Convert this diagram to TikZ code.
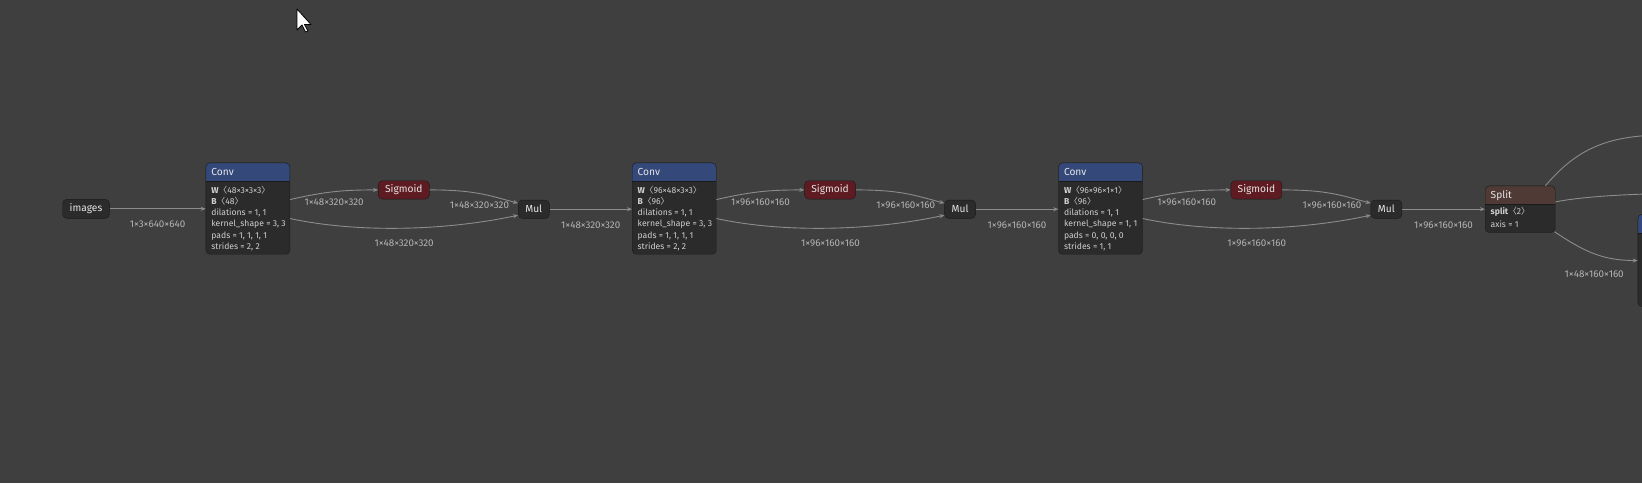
\documentclass[tikz,border=0pt]{standalone}
\usepackage{fontspec}
\setmainfont{Fira Sans}
\newfontfamily\cjkfont{Noto Sans CJK SC}
\usetikzlibrary{positioning,calc,arrows.meta}
\definecolor{bgcol}{HTML}{3F3F3F}
\definecolor{nodefill}{HTML}{2B2B2B}
\definecolor{nodeline}{HTML}{1A1A1A}
\definecolor{nodetext}{HTML}{E6E6E6}
\definecolor{attrtext}{HTML}{D0D0D0}
\definecolor{convhead}{HTML}{34487A}
\definecolor{sigfill}{HTML}{5E1B21}
\definecolor{splithead}{HTML}{503A36}
\definecolor{edgecol}{HTML}{8C8C8C}
\definecolor{lblcol}{HTML}{B4B4B4}
\newcommand{\lbr}{{\cjkfont 〈}}
\newcommand{\rbr}{{\cjkfont 〉}}

\begin{document}
\begin{tikzpicture}[x=1pt,y=-1pt,
        op/.style={draw=nodeline, fill=nodefill, rounded corners=4pt, inner sep=0pt,
            text=nodetext, font=\fontsize{10.2}{12}\selectfont},
        sigop/.style={op, fill=sigfill},
        block/.style={draw=nodeline, fill=nodefill, rounded corners=4pt, inner sep=0pt,
            anchor=north west,
            path picture={\fill[#1, sharp corners] (path picture bounding box.north west)
                rectangle ([yshift=-18.3pt]path picture bounding box.north east);
                \draw[nodeline, sharp corners] ([yshift=-18.3pt]path picture bounding box.north west)
                -- ([yshift=-18.3pt]path picture bounding box.north east);}},
        title/.style={anchor=base west, inner sep=0pt, text=nodetext, font=\fontsize{10.2}{12}\selectfont},
        attr/.style={anchor=base west, inner sep=0pt, align=left, text=attrtext,
            font=\fontsize{8.6}{11.3}\selectfont},
        edge/.style={draw=edgecol, line width=0.9pt, -{Stealth[length=5pt,width=4pt]}},
        wire/.style={draw=edgecol, line width=0.9pt},
        lbl/.style={inner sep=0pt, text=lblcol, font=\fontsize{9.8}{11}\selectfont}]

    \useasboundingbox (0,0) rectangle (1642,483);
    \fill[bgcol] (0,0) rectangle (1642,483);

    % mouse pointer
    \fill[white, draw=black, line width=0.8pt, line join=round] (297,9) -- ++(0,21) -- ++(5,-5)
        -- ++(3.5,7) -- ++(2.5,-1) -- ++(-3.5,-6.5) -- ++(6.5,0) -- cycle;

    \node[op, minimum width=46.6pt, minimum height=19pt] (images) at (86,208.8) {images};

    % three Conv / Sigmoid / Mul blocks
    \foreach \i/\w/\b/\k/\p/\s/\din/\dout in {
        1/48×3×3×3/48/{3, 3}/{1, 1, 1, 1}/{2, 2}/1×3×640×640/1×48×320×320,
        2/96×48×3×3/96/{3, 3}/{1, 1, 1, 1}/{2, 2}/1×48×320×320/1×96×160×160,
        3/96×96×1×1/96/{1, 1}/{0, 0, 0, 0}/{1, 1}/1×96×160×160/1×96×160×160} {
        \pgfmathsetmacro\dx{426.3*(\i-1)}
        \ifnum\i=1 \def\prev{images}\else \pgfmathtruncatemacro\j{\i-1}\edef\prev{mul\j}\fi

        \node[block=convhead, minimum width=84pt, minimum height=91.3pt] (conv\i) at (205.7+\dx,162.7) {};
        \node[title] (conv\i t) at ([xshift=5.5pt,yshift=-12.8pt]conv\i.north west) {Conv};
        \node[attr] (conv\i a) at ([xshift=5.5pt,yshift=-86.8pt]conv\i.north west)
            {\textbf{W}\lbr\w\rbr\\ \textbf{B}\lbr\b\rbr\\ dilations = 1, 1\\
             kernel\_shape = \k\\ pads = \p\\ strides = \s};
        \node[sigop, minimum width=51pt, minimum height=18.3pt] (sig\i) at (403.8+\dx,189.9) {Sigmoid};
        \node[op, minimum width=31pt, minimum height=18.3pt] (mul\i) at (533.8+\dx,209.2) {Mul};

        \draw[edge] (\prev.east) -- (\prev.east -| conv\i.west) node[lbl, midway, below=12pt] {\din};
        \draw[edge] ([yshift=9pt]conv\i.east) .. controls +(35,-8) and +(-35,0) .. (sig\i.west)
            node[lbl, pos=0.5, below=6.5pt] {\dout};
        \draw[edge] ([yshift=-10pt]conv\i.east) .. controls +(70,15) and +(-70,15) .. ([yshift=-6pt]mul\i.west)
            node[lbl, pos=0.5, below=11pt] {\dout};
        \draw[edge] (sig\i.east) .. controls +(45,0) and +(-30,-8) .. ([yshift=6pt]mul\i.west)
            node[lbl, pos=0.5, below=7.5pt] {\dout};
    }

    % Split and what follows
    \node[block=splithead, minimum width=70pt, minimum height=46.6pt] (split) at (1485,185.7) {};
    \node[title] (splitt) at ([xshift=5.5pt,yshift=-12.5pt]split.north west) {Split};
    \node[attr, font=\fontsize{8.6}{12.3}\selectfont] (splita) at ([xshift=5.5pt,yshift=-41.3pt]split.north west)
        {\textbf{split}\lbr2\rbr\\ axis = 1};
    \draw[edge] (mul3.east) -- (mul3.east -| split.west) node[lbl, midway, below=12pt] {1×96×160×160};

    \node[block=convhead, minimum width=84pt, minimum height=92pt] (conv4) at (1637.7,214.3) {};
    \coordinate (outa) at (1665,135);
    \coordinate (outb) at (1680,193.5);
    \draw[wire] ([xshift=-10pt]split.north east) .. controls +(30,-35) and +(-60,0) .. (outa);
    \draw[wire] ([yshift=7.3pt]split.east) .. controls +(30,-6) and +(-40,0) .. (outb);
    \draw[edge] ([xshift=-1pt,yshift=1pt]split.south east) .. controls +(30,20) and +(-35,0) .. (conv4.west)
        node[lbl, pos=0.5, below=17pt] {1×48×160×160};
\end{tikzpicture}
\end{document}
